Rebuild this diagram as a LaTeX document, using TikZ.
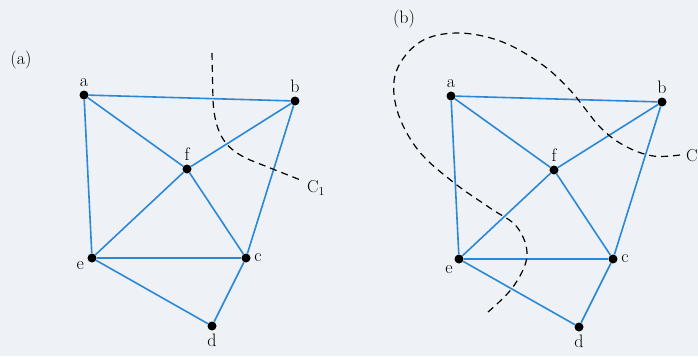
\documentclass[tikz,border=0pt]{standalone}
\usepackage{xcolor}
\usepackage{tikz}
\usetikzlibrary{positioning}
\definecolor{edgeblue}{HTML}{2B88D6}
\definecolor{paper}{HTML}{EEF2F6}

\begin{document}
\begin{tikzpicture}[x=1pt,y=-1pt,
    vtx/.style={circle,fill=black,inner sep=0pt,minimum size=9pt},
    lbl/.style={font=\fontsize{18}{21}\selectfont,inner sep=2pt},
    edge/.style={draw=edgeblue,line width=1.6pt},
    cut/.style={line width=1.2pt,dash pattern=on 7pt off 5pt}]
    % paper and page size
    \fill[paper] (0,0) rectangle (698,356);
    \useasboundingbox (0,0) rectangle (698,356);

    % the same graph twice, (b) shifted to the right
    \foreach \p/\dx/\dy/\tx/\ty/\eang in {a/0/0/21/60/195, b/367/1/37/18/228}{
      \begin{scope}[shift={(\dx,\dy)},label distance=1.5pt]
        \node[lbl] (\p tag) at (\tx,\ty) {(\p)};
        \node[vtx,label={[lbl]above:a}] (\p a) at (84,95) {};
        \node[vtx,label={[lbl]above:b}] (\p b) at (295,101) {};
        \node[vtx,label={[lbl]above:f}] (\p f) at (187,169) {};
        \node[vtx,label={[lbl]\eang:e}] (\p e) at (92,258) {};
        \node[vtx,label={[lbl]right:c}] (\p c) at (246,258) {};
        \node[vtx,label={[lbl]below:d}] (\p d) at (212,326) {};
        % edges
        \foreach \u/\v in {a/b,a/f,a/e,b/f,b/c,f/e,f/c,e/c,e/d,c/d}
          \draw[edge] (\p\u) -- (\p\v);
      \end{scope}
    }

    % cut C_1 in (a)
    \node[lbl,anchor=west] (cuta) at (305,188) {$\mathrm{C}_1$};
    \draw[cut] (212,53) -- (213,100) .. controls (215,138) and (228,150) .. (250,160) -- (303,181);

    % cut C_1 in (b), runs off the page
    \node[lbl,anchor=west] (cutb) at (684,157) {$\mathrm{C}_1$};
    \draw[cut] plot[smooth,tension=0.6] coordinates {(488,312) (513,287) (527,256) (517,227) (490,208)
      (453,182) (418,150) (397,110) (396,72) (420,42) (457,33) (500,41) (540,63) (570,90)
      (600,127) (625,146) (653,156) (680,155)};
\end{tikzpicture}
\end{document}
